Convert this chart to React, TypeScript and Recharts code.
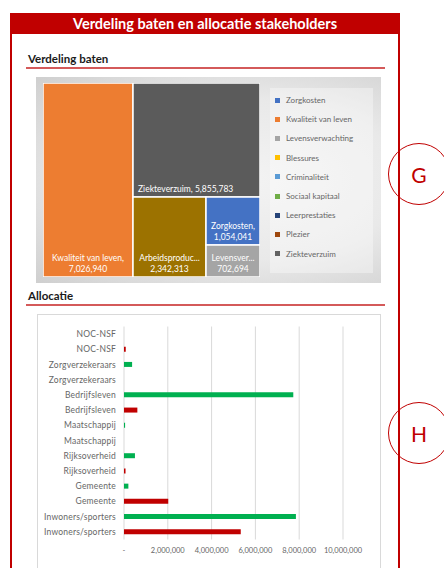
import { Treemap, BarChart, Bar, XAxis, YAxis, CartesianGrid } from 'recharts';

const FONT = 'Lato, "Open Sans", sans-serif';
const RED = '#C00000';

// treemap: verdeling baten
const batenNames = ['Kwaliteit van leven', 'Ziekteverzuim', 'Arbeidsproductiviteit', 'Zorgkosten', 'Levensverwachting'];
const batenValues = [7026940, 5855783, 2342313, 1054041, 702694];
const batenColors = ['#ED7D31', '#5B5B5B', '#9C7200', '#4472C4', '#A5A5A5'];

// legend of the treemap (as shown in the picture)
const legendNames = ['Zorgkosten', 'Kwaliteit van leven', 'Levensverwachting', 'Blessures', 'Criminaliteit', 'Sociaal kapitaal', 'Leerprestaties', 'Plezier', 'Ziekteverzuim'];
const legendColors = ['#4472C4', '#ED7D31', '#A5A5A5', '#FFC000', '#5B9BD5', '#70AD47', '#264478', '#9E480E', '#636363'];

// bar chart: allocatie
const stakeholders = [
  'NOC-NSF', 'NOC-NSF', 'Zorgverzekeraars', 'Zorgverzekeraars', 'Bedrijfsleven', 'Bedrijfsleven',
  'Maatschappij', 'Maatschappij', 'Rijksoverheid', 'Rijksoverheid', 'Gemeente', 'Gemeente',
  'Inwoners/sporters', 'Inwoners/sporters',
];
const batenAlloc = [0, 0, 370000, 0, 7730000, 0, 50000, 0, 500000, 0, 200000, 0, 7850000, 0];
const kostenAlloc = [0, 80000, 0, 0, 0, 610000, 0, 0, 0, 70000, 0, 2020000, 0, 5330000];
const xTicks = [0, 2000000, 4000000, 6000000, 8000000, 10000000];

const treeData = batenNames.map((name, i) => ({ name, size: batenValues[i], fill: batenColors[i] }));
const barData = stakeholders.map((label, i) => ({ label, baten: batenAlloc[i], kosten: kostenAlloc[i] }));

const fmt = (v: number) => v.toLocaleString('en-US');

const CHAR_W = 4.3;

const TreeCell = (props: any) => {
  const { x, y, width, height, depth, name, fill, size } = props;
  if (depth !== 1) return <g />;
  const value = fmt(size);
  const oneLine = `${name}, ${value}`;
  const bottom = y + height;
  let labels;
  if (oneLine.length * CHAR_W < width - 10) {
    labels = (
      <text x={x + 5} y={bottom - 5} fill="#fff" fontSize={8.5} fontFamily={FONT}>
        {oneLine}
      </text>
    );
  } else {
    const maxChars = Math.floor((width - 2) / CHAR_W);
    const first = name.length + 1 > maxChars ? name.slice(0, maxChars - 3) + '...' : name + ',';
    labels = (
      <g fill="#fff" fontSize={8.5} fontFamily={FONT} textAnchor="middle">
        <text x={x + width / 2} y={bottom - 16}>{first}</text>
        <text x={x + width / 2} y={bottom - 5}>{value}</text>
      </g>
    );
  }
  return (
    <g>
      <rect x={x} y={y} width={width} height={height} fill={fill} stroke="#fff" strokeWidth={1.5} />
      {labels}
    </g>
  );
};

const Heading = ({ text, top }: { text: string; top: number }) => (
  <>
    <div style={{ position: 'absolute', left: 28, top, fontFamily: FONT, fontWeight: 700, fontSize: 11.5, color: '#1a1a1a', lineHeight: '14px' }}>
      {text}
    </div>
    <div style={{ position: 'absolute', left: 26, top: top + 15, width: 359, height: 2, background: '#D45A5A' }} />
  </>
);

const Marker = ({ letter, cy }: { letter: string; cy: number }) => (
  <div
    style={{
      position: 'absolute', left: 419 - 31, top: cy - 31, width: 60, height: 60, borderRadius: '50%',
      border: `1.2px solid ${RED}`, color: RED, fontFamily: FONT, fontSize: 21,
      display: 'flex', alignItems: 'center', justifyContent: 'center',
    }}
  >
    {letter}
  </div>
);

export default function App() {
  return (
    <div style={{ position: 'absolute', left: 0, top: 0, width: 444, height: 568, overflow: 'hidden', background: '#fff' }}>
      {/* frame */}
      <div style={{ position: 'absolute', left: 10, top: 13, width: 2, height: 560, background: RED }} />
      <div style={{ position: 'absolute', left: 398, top: 13, width: 2, height: 560, background: RED }} />
      <div
        style={{
          position: 'absolute', left: 10, top: 13, width: 390, height: 21, background: RED, color: '#fff',
          fontFamily: FONT, fontWeight: 700, fontSize: 14.5, lineHeight: '21px', textAlign: 'center',
        }}
      >
        Verdeling baten en allocatie stakeholders
      </div>

      <Heading text="Verdeling baten" top={52} />

      {/* treemap panel */}
      <div
        style={{
          position: 'absolute', left: 36, top: 77, width: 345, height: 206,
          background: 'radial-gradient(ellipse at 60% 50%, #f3f3f3 0%, #e9e9e9 55%, #cfcfcf 100%)',
        }}
      />
      <div style={{ position: 'absolute', left: 270, top: 88, width: 103, height: 185, background: 'rgba(255,255,255,0.35)' }} />
      <div style={{ position: 'absolute', left: 43, top: 83 }}>
        <Treemap
          width={217}
          height={194}
          data={treeData}
          dataKey="size"
          nameKey="name"
          aspectRatio={0.5}
          isAnimationActive={false}
          content={<TreeCell />}
        />
      </div>
      {legendNames.map((n, i) => (
        <div key={n} style={{ position: 'absolute', left: 275, top: 94 + i * 19.2, height: 12, display: 'flex', alignItems: 'center' }}>
          <div style={{ width: 5, height: 5, background: legendColors[i], marginRight: 6 }} />
          <span style={{ fontFamily: FONT, fontSize: 8, color: '#666', whiteSpace: 'nowrap' }}>{n}</span>
        </div>
      ))}

      <Marker letter="G" cy={174} />

      <Heading text="Allocatie" top={289} />

      {/* bar chart panel */}
      <div style={{ position: 'absolute', left: 37, top: 314, width: 342, height: 260, border: '1px solid #D9D9D9' }} />
      <div style={{ position: 'absolute', left: 37, top: 314 }}>
        <BarChart
          width={343}
          height={250}
          data={barData}
          layout="vertical"
          margin={{ top: 12.5, right: 37, bottom: 4.5, left: 0 }}
          barCategoryGap={0}
        >
          <CartesianGrid horizontal={false} stroke="#D9D9D9" />
          <XAxis
            type="number"
            domain={[0, 10000000]}
            ticks={xTicks}
            tickFormatter={(v: number) => (v === 0 ? '-' : fmt(v))}
            axisLine={false}
            tickLine={false}
            height={20}
            interval={0}
            tick={{ fontSize: 7.5, fill: '#666', fontFamily: FONT }}
          />
          <YAxis
            type="category"
            dataKey="label"
            width={87}
            axisLine={false}
            tickLine={false}
            interval={0}
            tick={{ fontSize: 8.5, fill: '#666', fontFamily: FONT, letterSpacing: 0.2 }}
          />
          <Bar dataKey="baten" stackId="a" fill="#00B050" barSize={5} isAnimationActive={false} />
          <Bar dataKey="kosten" stackId="a" fill={RED} barSize={5} isAnimationActive={false} />
        </BarChart>
      </div>

      <Marker letter="H" cy={433} />
    </div>
  );
}
